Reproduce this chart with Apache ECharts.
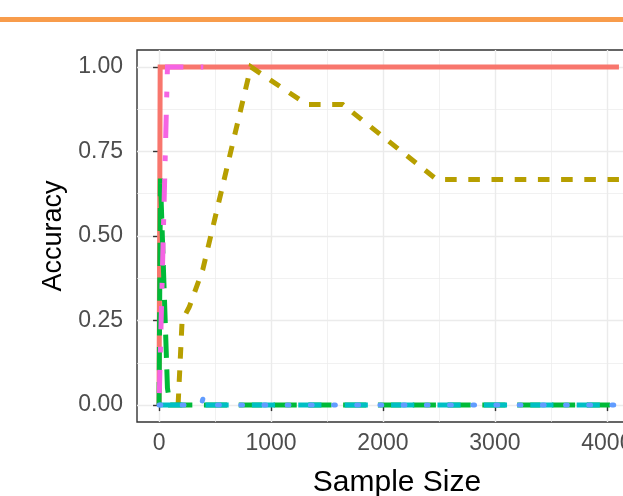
<!DOCTYPE html>
<html>
<head>
<meta charset="utf-8">
<script src="https://cdn.jsdelivr.net/npm/echarts@6/dist/echarts.min.js"></script>
<style>
  html, body { margin: 0; padding: 0; background: #fff; overflow: hidden; }
  #chart { width: 660px; height: 496px; }
</style>
</head>
<body>
<div id="chart"></div>
<script>
// values: [sample size, accuracy]
const redLine     = [[0, 0], [10, 1], [4108, 1]];
const oliveLine   = [[170, 0], [206, 0.25], [270, 0.29], [390, 0.40], [820, 1.0], [1320, 0.889], [1640, 0.889], [2480, 0.667], [4108, 0.667]];
const greenLine   = [[0, 0], [12, 0.67], [75, 0.05], [100, 0], [4108, 0]];
const cyanLine    = [[0, 0], [4108, 0]];
const blueLine    = [[0, 0], [375, 0], [395, 0.022], [415, 0], [4108, 0]];
const magentaLine = [[0, 0], [75, 1], [395, 1]];

const xTicks      = [0, 1000, 2000, 3000, 4000];
const xMinorTicks = [500, 1500, 2500, 3500];
const yTicks      = [0, 0.25, 0.5, 0.75, 1];
const yMinorTicks = [0.125, 0.375, 0.625, 0.875];

const font = 'Liberation Sans, Arial, sans-serif';
const W = 5;   // line width
const U = 5.8; // dash unit

const chart = echarts.init(document.getElementById('chart'));

function minorAxis(pos, vals, min, max) {
  return {
    type: 'value', position: pos, min: min, max: max,
    axisLine: { show: false },
    axisTick: { show: false, customValues: vals },
    axisLabel: { show: false },
    splitLine: { show: true, lineStyle: { color: '#EBEBEB', width: 0.7 } }
  };
}

function line(name, data, color, dash, z, offset, cap) {
  return {
    name: name, type: 'line', data: data, z: z,
    showSymbol: false, symbol: 'none', animation: false,
    lineStyle: {
      color: color, width: W, type: dash, dashOffset: offset || 0,
      cap: cap || 'butt', join: cap ? 'round' : 'miter'
    }
  };
}

chart.setOption({
  animation: false,
  backgroundColor: '#fff',
  graphic: [{
    type: 'rect', left: 0, top: 17,
    shape: { width: 660, height: 5 },
    style: { fill: '#F89C4B' }
  }],
  grid: {
    left: 137, top: 50, right: 19, bottom: 74,
    outerBoundsMode: 'none',
    show: true, borderColor: '#333333', borderWidth: 1.4, backgroundColor: 'transparent'
  },
  xAxis: [{
    type: 'value', min: -197, max: 4305,
    name: 'Sample Size', nameLocation: 'middle', nameGap: 46,
    nameTextStyle: { fontFamily: font, fontSize: 30, color: '#000', padding: [0, 0, 0, 16] },
    axisLine: { show: false },
    axisTick: { show: true, length: 6, customValues: xTicks, lineStyle: { color: '#333', width: 1.4 } },
    axisLabel: {
      customValues: xTicks, fontFamily: font, fontSize: 23, color: '#4D4D4D', margin: 10,
      formatter: v => String(v)
    },
    splitLine: { show: true, lineStyle: { color: '#EBEBEB', width: 1.4 } }
  }, minorAxis('bottom', xMinorTicks, -197, 4305)],
  yAxis: [{
    type: 'value', min: -0.05, max: 1.05,
    name: 'Accuracy', nameLocation: 'middle', nameGap: 69, nameRotate: 90,
    nameTextStyle: { fontFamily: font, fontSize: 27, color: '#000' },
    axisLine: { show: false },
    axisTick: { show: true, length: 6, customValues: yTicks, lineStyle: { color: '#333', width: 1.4 } },
    axisLabel: {
      customValues: yTicks, fontFamily: font, fontSize: 23, color: '#4D4D4D', margin: 14,
      formatter: v => v.toFixed(2)
    },
    splitLine: { show: true, lineStyle: { color: '#EBEBEB', width: 1.4 } }
  }, minorAxis('left', yMinorTicks, -0.05, 1.05)],
  series: [
    line('red', redLine, '#F8766D', 'solid', 2),
    line('olive', oliveLine, '#B79F00', [2 * U, 2 * U], 3),
    line('green', greenLine, '#00BA38', [4 * U, 2 * U], 4),
    line('cyan', cyanLine, '#00BFC4', [4 * U, 4 * U], 5),
    line('blue', blueLine, '#619CFF', [0.3 * U, 3.7 * U], 6, 0, 'round'),
    line('magenta', magentaLine, '#F564E3', [U, 3 * U, 4 * U, 3 * U], 7, 75)
  ]
});
</script>
</body>
</html>
